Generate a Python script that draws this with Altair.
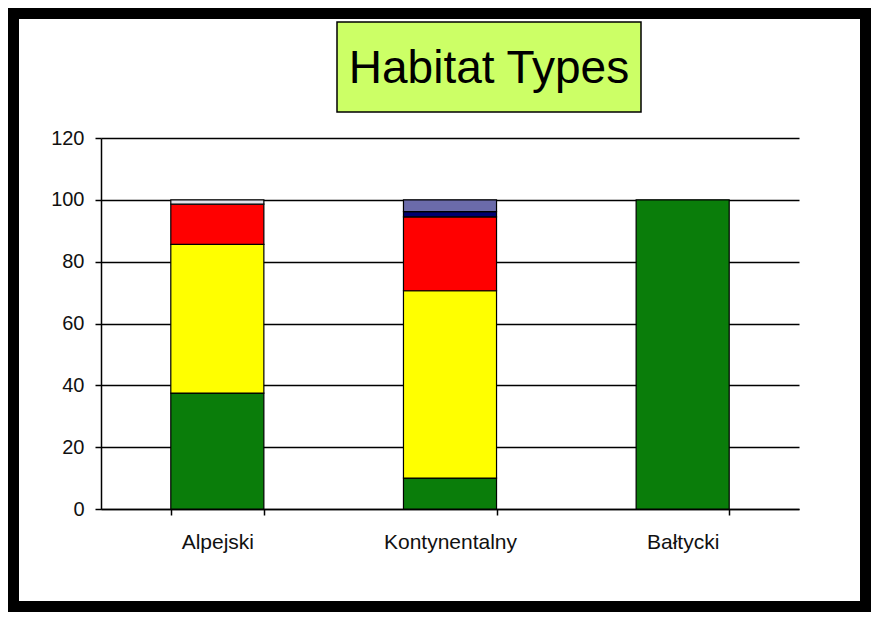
import altair as alt
import pandas as pd

regions = ["Alpejski", "Kontynentalny", "Bałtycki"]
series = ["Typ 1", "Typ 2", "Typ 3", "Typ 4", "Typ 5", "Typ 6"]
colors = ["#0A7D0A", "#FFFF00", "#FF0000", "#000070", "#6B6BAA", "#E2E2EA"]

alpejski = [37.5, 48.1, 13.0, 0, 0, 1.4]
kontynentalny = [10.0, 60.6, 23.9, 1.7, 3.8, 0]
baltycki = [100, 0, 0, 0, 0, 0]

y_ticks = [0, 20, 40, 60, 80, 100, 120]
title_text = "Habitat Types"

rows = []
for reg, vals in zip(regions, [alpejski, kontynentalny, baltycki]):
    for i, (s, v) in enumerate(zip(series, vals)):
        if v > 0:
            rows.append({"region": reg, "series": s, "idx": i, "value": v})
df = pd.DataFrame(rows)
dummy = pd.DataFrame({"a": [0]})

FONT = "Liberation Sans"

frame = alt.Chart(dummy).mark_rect(
    fillOpacity=0, stroke="black", strokeWidth=22
).encode(
    x=alt.value(-93), x2=alt.value(770), y=alt.value(-130), y2=alt.value(474)
)

bars = alt.Chart(df).mark_bar(stroke="black", strokeWidth=1.2).encode(
    x=alt.X(
        "region:N",
        sort=regions,
        scale=alt.Scale(paddingInner=0.6, paddingOuter=0.3),
        axis=alt.Axis(
            title=None, labelAngle=0, tickBand="extent", tickSize=6,
            tickColor="black", tickWidth=1.5, domainColor="black", domainWidth=1.5,
            labelFont=FONT, labelFontSize=21, labelColor="#111111", labelPadding=16,
        ),
    ),
    y=alt.Y(
        "value:Q",
        stack="zero",
        scale=alt.Scale(domain=[0, 120], nice=False),
        axis=alt.Axis(
            title=None, values=y_ticks, grid=True, gridColor="black", gridWidth=1.4,
            tickSize=6, tickColor="black", tickWidth=1.5, domainColor="black",
            domainWidth=1.5, labelFont=FONT, labelFontSize=20, labelColor="#111111",
            labelPadding=11,
        ),
    ),
    color=alt.Color("series:N", scale=alt.Scale(domain=series, range=colors), legend=None),
    order=alt.Order("idx:Q"),
)

title_box = alt.Chart(dummy).mark_rect(
    fill="#CCFF66", stroke="black", strokeWidth=1.5
).encode(
    x=alt.value(236), x2=alt.value(540), y=alt.value(-116), y2=alt.value(-26)
)

title = alt.Chart(pd.DataFrame({"t": [title_text]})).mark_text(
    font=FONT, fontSize=46, color="black", align="center", baseline="middle"
).encode(
    text="t:N", x=alt.value(388), y=alt.value(-69)
)

chart = alt.layer(frame, bars, title_box, title).properties(
    width=698,
    height=371,
    background="white",
    autosize=alt.AutoSizeParams(type="none"),
    padding={"left": 93, "top": 130, "right": 72, "bottom": 103},
).configure_view(stroke=None)

chart.save("out.html", embed_options={"renderer": "svg", "actions": False})
